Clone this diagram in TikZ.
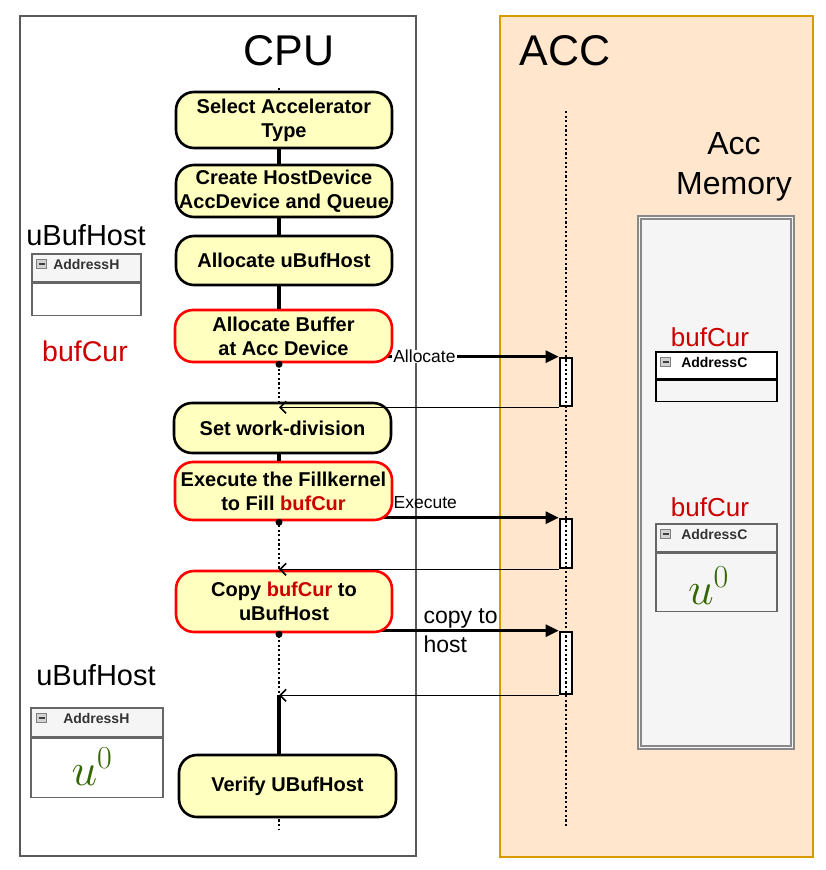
\RequirePackage{fix-cm}
\documentclass[tikz,border=0pt]{standalone}
\usepackage{fontspec}
\setmainfont{Liberation Sans}
\usetikzlibrary{positioning,arrows.meta}
\DeclareMathSizes{46}{46}{32}{23}
\definecolor{accfill}{HTML}{FFE6CC}
\definecolor{accdraw}{HTML}{D79B00}
\definecolor{procfill}{HTML}{FFFFC0}
\definecolor{bufred}{HTML}{CC0000}
\definecolor{ugreen}{HTML}{336600}
\definecolor{cellgray}{HTML}{F5F5F5}
\definecolor{tabdraw}{HTML}{666666}
\definecolor{memdraw}{HTML}{888888}
\newcommand{\setfs}[2]{\fontsize{#1}{#2}\selectfont}
\newcommand{\bufcur}{\textcolor{bufred}{bufCur}}
\newcommand{\uzero}{$u^0$}

\begin{document}
\begin{tikzpicture}[x=1pt,y=-1pt,
	panel/.style={draw=#1,line width=1.3pt},
	procbox/.style={draw=black,line width=2.6pt,fill=procfill,rounded corners=18pt,minimum width=216pt,inner sep=0pt,align=center,font=\setfs{20}{24}\bfseries},
	procboxred/.style={procbox,draw=red},
	lifeline/.style={line width=2.8pt,dash pattern=on 2.2pt off 2.4pt},
	segment/.style={line width=3.6pt},
	actbar/.style={draw=black,fill=white,line width=2.6pt,minimum width=12pt,inner sep=0pt},
	msg/.style={line width=2.6pt,-{Triangle[length=13pt,width=12pt]}},
	reply/.style={line width=1.6pt,-{Straight Barb[length=6pt,width=12pt]}},
	msglabel/.style={font=\setfs{17.5}{21},inner sep=0pt},
	headcell/.style={draw=tabdraw,fill=cellgray,line width=1.5pt,minimum height=28pt,inner sep=0pt},
	bodycell/.style={draw=tabdraw,fill=white,line width=1.5pt,inner sep=0pt},
	minusbox/.style={draw=gray,fill=gray!35,line width=0.8pt,minimum width=10pt,minimum height=9pt,inner sep=0pt,
		path picture={\draw[line width=1.6pt,black!75] ([xshift=2pt]path picture bounding box.west) -- ([xshift=-2pt]path picture bounding box.east);}},
	addrtext/.style={font=\setfs{14}{16}\bfseries,text=black!80,inner sep=0pt},
	uval/.style={font=\setfs{46}{50},text=ugreen,inner sep=0pt},
	title/.style={font=\setfs{43}{50},inner sep=0pt},
	]
	\useasboundingbox (0,0) rectangle (826,870);

	% the two sides
	\node[panel=black!65,fill=white,minimum width=396pt,minimum height=840pt,inner sep=0pt] (cpu) at (218,436) {};
	\node[panel=accdraw,fill=accfill,minimum width=313pt,minimum height=841pt,inner sep=0pt] (acc) at (656.5,436.5) {};
	\node[title] (cpuTitle) at (289,51) {CPU};
	\node[title] (accTitle) at (565,51) {ACC};

	% accelerator memory
	\node[font=\setfs{32}{40},align=center,inner sep=0pt] (memTitle) at (734,167) {Acc\\Memory};
	\node[draw=memdraw,line width=1.3pt,double=cellgray,double distance=1.6pt,fill=cellgray,minimum width=153pt,minimum height=530pt,inner sep=0pt] (accmem) at (716,482.5) {};
	\node[font=\setfs{26}{30},text=bufred,inner sep=0pt] (curLabelA) at (710,337) {bufCur};
	\node[headcell,draw=black,fill=white,minimum width=121pt,minimum height=27pt] (accHeadA) at (716.5,365.5) {};
	\node[bodycell,draw=black,fill=cellgray,minimum width=121pt,minimum height=21pt,below=0pt of accHeadA] (accBodyA) {};
	\node[minusbox,below right=6pt and 5pt of accHeadA.north west] (accIconA) {};
	\node[addrtext,text=black,right=10pt of accIconA] (accAddrA) {AddressC};
	\node[font=\setfs{26}{30},text=bufred,inner sep=0pt] (curLabelB) at (710,507) {bufCur};
	\node[headcell,minimum width=121pt,minimum height=28pt] (accHeadB) at (716.5,538) {};
	\node[bodycell,fill=cellgray,minimum width=121pt,minimum height=58pt,below=0pt of accHeadB] (accBodyB) {};
	\node[minusbox,below right=6pt and 5pt of accHeadB.north west] (accIconB) {};
	\node[addrtext,right=10pt of accIconB] (accAddrB) {AddressC};
	\node[uval] (accValB) at ([xshift=-8pt,yshift=-3pt]accBodyB.center) {\uzero};

	% host memory
	\node[font=\setfs{29}{34},inner sep=0pt] (hostLabelA) at (86,235) {uBufHost};
	\node[headcell,minimum width=109pt] (hostHeadA) at (86.5,268) {};
	\node[bodycell,minimum width=109pt,minimum height=32pt,below=0pt of hostHeadA] (hostBodyA) {};
	\node[minusbox,below right=6pt and 5pt of hostHeadA.north west] (hostIconA) {};
	\node[addrtext,right=6pt of hostIconA] (hostAddrA) {AddressH};
	\node[font=\setfs{28.5}{34},text=bufred,inner sep=0pt] (hostCur) at (85,351) {bufCur};
	\node[font=\setfs{29}{34},inner sep=0pt] (hostLabelB) at (96,675) {uBufHost};
	\node[headcell,minimum width=132pt,minimum height=29pt] (hostHeadB) at (97,722.5) {};
	\node[bodycell,minimum width=132pt,minimum height=59pt,below=0pt of hostHeadB] (hostBodyB) {};
	\node[minusbox,below right=6pt and 6pt of hostHeadB.north west] (hostIconB) {};
	\node[addrtext,right=16pt of hostIconB] (hostAddrB) {AddressH};
	\node[uval] (hostValB) at ([xshift=-5pt,yshift=1.5pt]hostBodyB.center) {\uzero};

	% lifelines
	\coordinate (cpuTop) at (279,88);
	\coordinate (cpuBot) at (279,830);
	\coordinate (accTop) at (566,111);
	\coordinate (accBot) at (566,828);
	\node[actbar,minimum height=48pt] (act1) at (566,382) {};
	\node[actbar,minimum height=49pt] (act2) at (566,543.5) {};
	\node[actbar,minimum height=62pt] (act3) at (566,663) {};
	\draw[lifeline] (cpuTop) -- (cpuBot);
	\draw[lifeline] (accTop) -- (accBot);

	% calls to the accelerator
	\draw[msg] (cpuTop |- act1.north west) -- node[msglabel,fill=white,inner xsep=1pt,pos=0.52] (msgAlloc) {Allocate} (act1.north west);
	\draw[msg] (cpuTop |- act2.north west) -- node[msglabel,pos=0.523,above=8pt] (msgExec) {Execute} (act2.north west);
	\draw[msg] (cpuTop |- act3.north west) -- node[msglabel,font=\setfs{23}{29},align=left,anchor=west,pos=0.512] (msgCopy) {copy to\\host} (act3.north west);

	% steps on the host
	\node[procbox,minimum height=56pt] (box1) at (284,120) {Select Accelerator\\Type};
	\node[procbox,minimum height=52pt] (box2) at (284,191) {Create HostDevice\\AccDevice and Queue};
	\node[procbox,minimum height=49pt] (box3) at (284,260.5) {Allocate uBufHost};
	\node[procboxred,minimum width=217pt,minimum height=52pt] (box4) at (283.5,336) {Allocate Buffer\\at Acc Device};
	\node[procbox,minimum width=217pt,minimum height=50pt] (box5) at (282.5,428) {Set work-division};
	\node[procboxred,minimum width=217pt,minimum height=58pt] (box6) at (283.5,491) {Execute the Fillkernel\\to Fill \bufcur};
	\node[procboxred,minimum height=61pt] (box7) at (284,601.5) {Copy \bufcur{} to\\uBufHost};
	\node[procbox,minimum width=217pt,minimum height=62pt] (box8) at (287.5,786) {Verify UBufHost};

	% returns
	\draw[reply] (act1.south west) -- (act1.south west -| cpuTop);
	\draw[reply] (act2.south west) -- (act2.south west -| cpuTop);
	\draw[reply] (act3.south west) -- (act3.south west -| cpuTop);

	\draw[segment] (box1.south -| cpuTop) -- (box2.north -| cpuTop);
	\draw[segment] (box2.south -| cpuTop) -- (box3.north -| cpuTop);
	\draw[segment] (box3.south -| cpuTop) -- (box4.north -| cpuTop);
	\draw[segment] (box5.south -| cpuTop) -- (box6.north -| cpuTop);
	\draw[segment] (act3.south west -| cpuTop) -- (box8.north -| cpuTop);
	\foreach \b in {box4,box6,box7}
		\fill ([yshift=-1pt]\b.south -| cpuTop) circle (3.5pt);
\end{tikzpicture}
\end{document}
